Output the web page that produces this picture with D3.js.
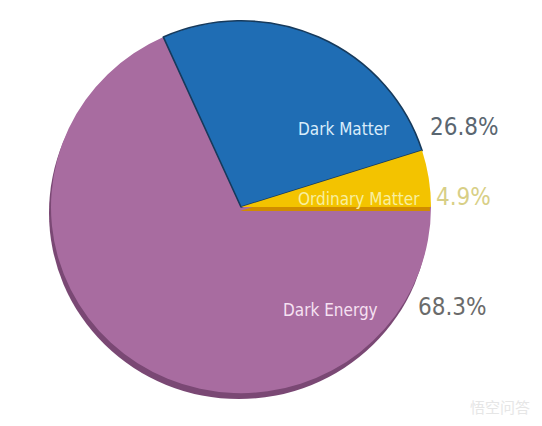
<!DOCTYPE html>
<html><head><meta charset="utf-8">
<script src="https://cdn.jsdelivr.net/npm/d3@7"></script>
<style>body{margin:0;background:#fff}svg{display:block}</style>
</head><body>
<svg id="c" width="542" height="426"></svg>
<script>
const categories = ["Dark Energy", "Dark Matter", "Ordinary Matter"];
const values = [68.3, 26.8, 4.9];
const valueLabels = ["68.3%", "26.8%", "4.9%"];
const colors = ["#A86CA0", "#1F6DB4", "#F3C300"];
const shadowColors = ["#7A4874", "#163a5c", "#D08C00"];
const nameColors = ["#F6E1F2", "#D9ECFA", "#F8EFA0"];
const pctColors = ["#6B6B6B", "#5A6670", "#D8CF86"];

const svg = d3.select("#c");
const cx = 241, cy = 207, r = 190;
const g = svg.append("g").attr("transform", `translate(${cx},${cy}) scale(1,0.98)`);

const pie = d3.pie().sort(null).value(d => d.v)
  .startAngle(Math.PI / 2).endAngle(Math.PI / 2 + 2 * Math.PI);
const data = pie(categories.map((c, i) => ({c, v: values[i], i})));
const arc = d3.arc().innerRadius(0).outerRadius(r);

// overall drop shadow (darker purple rim at lower-left)
g.append("path").datum({startAngle: 0, endAngle: 2 * Math.PI})
  .attr("transform", "translate(-2,6)")
  .attr("d", arc).attr("fill", shadowColors[0]);

data.forEach(d => {
  const i = d.data.i;
  if (i === 2) {
    g.append("path").datum(d).attr("transform", "translate(-1,4)")
      .attr("d", arc).attr("fill", shadowColors[2]);
  }
  g.append("path").datum(d)
    .attr("d", arc)
    .attr("fill", colors[i])
    .attr("stroke", i === 1 ? shadowColors[1] : "none")
    .attr("stroke-width", 1.6)
    .attr("stroke-linejoin", "round");
});

// labels
const namePos = [[283, 316], [298, 135], [298, 205]];
const pctPos = [[418, 315], [430, 135], [436, 205]];
const font = "'DejaVu Sans Condensed', 'DejaVu Sans', sans-serif";
svg.selectAll("text.n").data(categories).join("text")
  .attr("class", "n")
  .attr("x", (d, i) => namePos[i][0]).attr("y", (d, i) => namePos[i][1])
  .attr("font-family", font).attr("font-size", 17)
  .attr("fill", (d, i) => nameColors[i])
  .text(d => d);
svg.selectAll("text.p").data(valueLabels).join("text")
  .attr("class", "p")
  .attr("x", (d, i) => pctPos[i][0]).attr("y", (d, i) => pctPos[i][1])
  .attr("font-family", font).attr("font-size", 24)
  .attr("fill", (d, i) => pctColors[i])
  .text(d => d);

// watermark
svg.append("text").attr("x", 530).attr("y", 413).attr("text-anchor", "end")
  .attr("font-family", "'Noto Sans CJK SC', sans-serif").attr("font-size", 15)
  .attr("fill", "#e6e6e6").text("悟空问答");
</script>
</body></html>
